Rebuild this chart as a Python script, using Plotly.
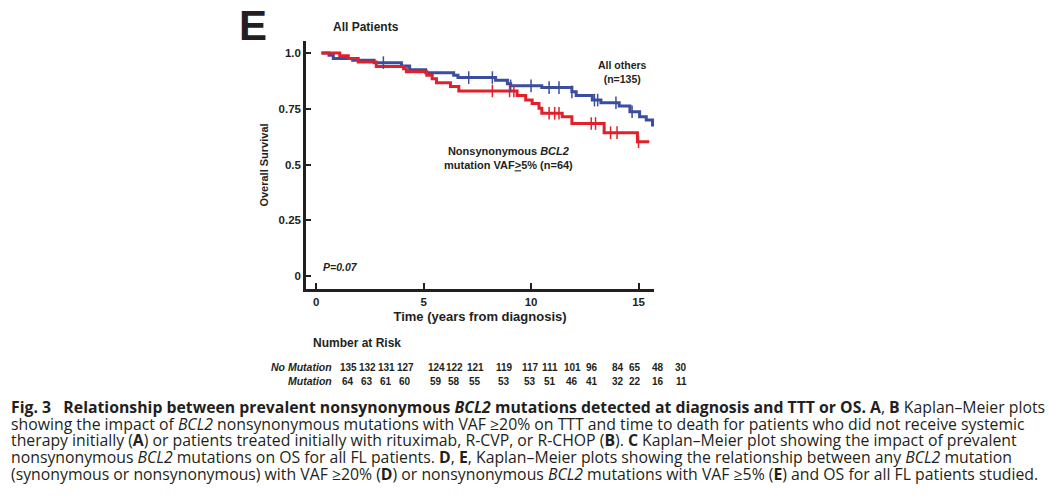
import plotly.graph_objects as go

# ---------------- data ----------------
blue_t = [0.25, 0.6, 0.8, 1.7, 2.7, 3.97, 4.35, 5.1, 6.4, 6.6, 8.35, 8.9, 9.05, 10.5, 11.9, 12.1, 12.85, 13.25, 14.1, 14.6, 15.05, 15.36, 15.65, 15.9]
blue_s = [1.0, 0.99, 0.976, 0.968, 0.957, 0.942, 0.925, 0.912, 0.90, 0.89, 0.878, 0.862, 0.853, 0.845, 0.826, 0.81, 0.789, 0.777, 0.762, 0.737, 0.714, 0.70, 0.677, 0.677]
red_t = [0.25, 1.1, 1.5, 1.96, 2.8, 4.07, 4.2, 5.15, 5.4, 5.6, 6.25, 6.64, 9.35, 9.75, 10.05, 10.37, 10.5, 11.45, 11.9, 13.4, 14.95, 15.5]
red_s = [1.0, 0.988, 0.975, 0.96, 0.94, 0.93, 0.916, 0.90, 0.885, 0.867, 0.85, 0.83, 0.81, 0.79, 0.774, 0.753, 0.73, 0.714, 0.684, 0.643, 0.602, 0.602]
blue_cens = [3.13, 7.1, 8.2, 9.05, 10.0, 10.84, 11.3, 11.9, 12.95, 13.1, 13.95, 14.7, 15.8]
red_cens = [8.2, 9.0, 9.2, 10.84, 11.1, 11.3, 12.8, 13.0, 13.7, 14.0, 15.0]

risk_no_mut = [135, 132, 131, 127, 124, 122, 121, 119, 117, 111, 101, 96, 84, 65, 48, 30]
risk_mut = [64, 63, 61, 60, 59, 58, 55, 53, 53, 51, 46, 41, 32, 22, 16, 11]
row_labels = ["No Mutation", "Mutation"]

x_ticks = [0, 5, 10, 15]
y_ticks = [0, 0.25, 0.5, 0.75, 1.0]
y_tick_text = ["0", "0.25", "0.5", "0.75", "1.0"]

caption_lines = [
    "<b>Fig. 3   Relationship between prevalent nonsynonymous <i>BCL2</i> mutations detected at diagnosis and TTT or OS. A</b>, <b>B</b> Kaplan–Meier plots",
    "showing the impact of <i>BCL2</i> nonsynonymous mutations with VAF ≥20% on TTT and time to death for patients who did not receive systemic",
    "therapy initially (<b>A</b>) or patients treated initially with rituximab, R-CVP, or R-CHOP (<b>B</b>). <b>C</b> Kaplan–Meier plot showing the impact of prevalent",
    "nonsynonymous <i>BCL2</i> mutations on OS for all FL patients. <b>D</b>, <b>E</b>, Kaplan–Meier plots showing the relationship between any <i>BCL2</i> mutation",
    "(synonymous or nonsynonymous) with VAF ≥20% (<b>D</b>) or nonsynonymous <i>BCL2</i> mutations with VAF ≥5% (<b>E</b>) and OS for all FL patients studied.",
]

# ---------------- layout geometry (screen pixels) ----------------
W, H = 1048, 499
AX_L, AX_R, AX_T, AX_B = 306, 654, 41, 289   # plot area on screen
L, T = AX_L, AX_T
PW, PH = AX_R - AX_L, AX_B - AX_T
R, B = W - L - PW, H - T - PH

def px(x):
    return (x - AX_L) / PW

def py(y):
    return 1 - (y - AX_T) / PH

RED = "#e3202a"
BLUE = "#3a4d9f"
INK = "#231f20"
SANS = "Liberation Sans, Arial"

def step_lookup(ts, ss, t):
    v = ss[0]
    for ti, si in zip(ts, ss):
        if ti <= t:
            v = si
    return v

fig = go.Figure()
fig.add_trace(go.Scatter(x=blue_t, y=blue_s, mode="lines", line=dict(color=BLUE, width=3, shape="hv"), showlegend=False))
fig.add_trace(go.Scatter(x=red_t, y=red_s, mode="lines", line=dict(color=RED, width=3, shape="hv"), showlegend=False))
fig.add_trace(go.Scatter(x=blue_cens, y=[step_lookup(blue_t, blue_s, t) for t in blue_cens], mode="markers",
                         marker=dict(symbol="line-ns-open", size=9, color=BLUE, line=dict(color=BLUE, width=1.5)), showlegend=False))
fig.add_trace(go.Scatter(x=red_cens, y=[step_lookup(red_t, red_s, t) for t in red_cens], mode="markers",
                         marker=dict(symbol="line-ns-open", size=9, color=RED, line=dict(color=RED, width=1.5)), showlegend=False))

fig.update_xaxes(range=[-0.47, 15.72], tickvals=x_ticks, ticks="inside", ticklen=6, tickwidth=2, tickcolor=INK,
                 showline=True, linecolor=INK, linewidth=2.5, showgrid=False, zeroline=False,
                 tickfont=dict(family=SANS, size=11.5, color=INK, weight="bold"),
                 title=dict(text="<b>Time (years from diagnosis)</b>", font=dict(family=SANS, size=13, color=INK), standoff=6))
fig.update_yaxes(range=[-0.058, 1.054], tickvals=y_ticks, ticktext=y_tick_text, ticks="inside", ticklen=5, tickwidth=2,
                 tickcolor=INK, showline=True, linecolor=INK, linewidth=2.5, showgrid=False, zeroline=False,
                 tickfont=dict(family=SANS, size=11.5, color=INK, weight="bold"),
                 title=dict(text="<b>Overall Survival</b>", font=dict(family=SANS, size=11, color=INK), standoff=8))

ann = []
def add(text, x, y, size, family=SANS, xanchor="center", yanchor="middle", align="center"):
    ann.append(dict(text=text, x=px(x), y=py(y), xref="paper", yref="paper", showarrow=False, borderpad=0,
                    font=dict(family=family, size=size, color=INK), xanchor=xanchor, yanchor=yanchor, align=align))

add("<b>E</b>", 253, 25.5, 42)
add("<b>All Patients</b>", 366, 27, 12)
add("<b>All others</b><br><b>(n=135)</b>", 622, 72, 10.5)
add("<b>Nonsynonymous <i>BCL2</i></b><br><b>mutation VAF<u>></u>5% (n=64)</b>", 508, 158, 11)
add("<b><i>P=0.07</i></b>", 322, 267, 10.5, xanchor="left")
add("<b>Number at Risk</b>", 312, 343, 12, xanchor="left")

risk_cols = [348, 367, 386, 405, 436, 454, 475, 504, 530, 550, 572, 592, 618, 635, 658, 681]
row_y = [367, 381]
for lab, ry in zip(row_labels, row_y):
    add(f"<b><i>{lab}</i></b>", 333, ry, 10.5, xanchor="right")
for vals, ry in zip([risk_no_mut, risk_mut], row_y):
    for v, cx in zip(vals, risk_cols):
        add(f"<b>{v}</b>", cx, ry, 10)

cap_y = [407, 424, 440, 457, 474]
for line, cy in zip(caption_lines, cap_y):
    add(line, 10, cy, 15.8, family="Open Sans", xanchor="left", align="left")

fig.update_layout(width=W, height=H, margin=dict(l=L, r=R, t=T, b=B, autoexpand=False),
                  paper_bgcolor="white", plot_bgcolor="white", annotations=ann)

fig.write_html("out.html", config={"displayModeBar": False},
               post_script="document.body.style.margin='0';document.body.style.overflow='hidden';")
